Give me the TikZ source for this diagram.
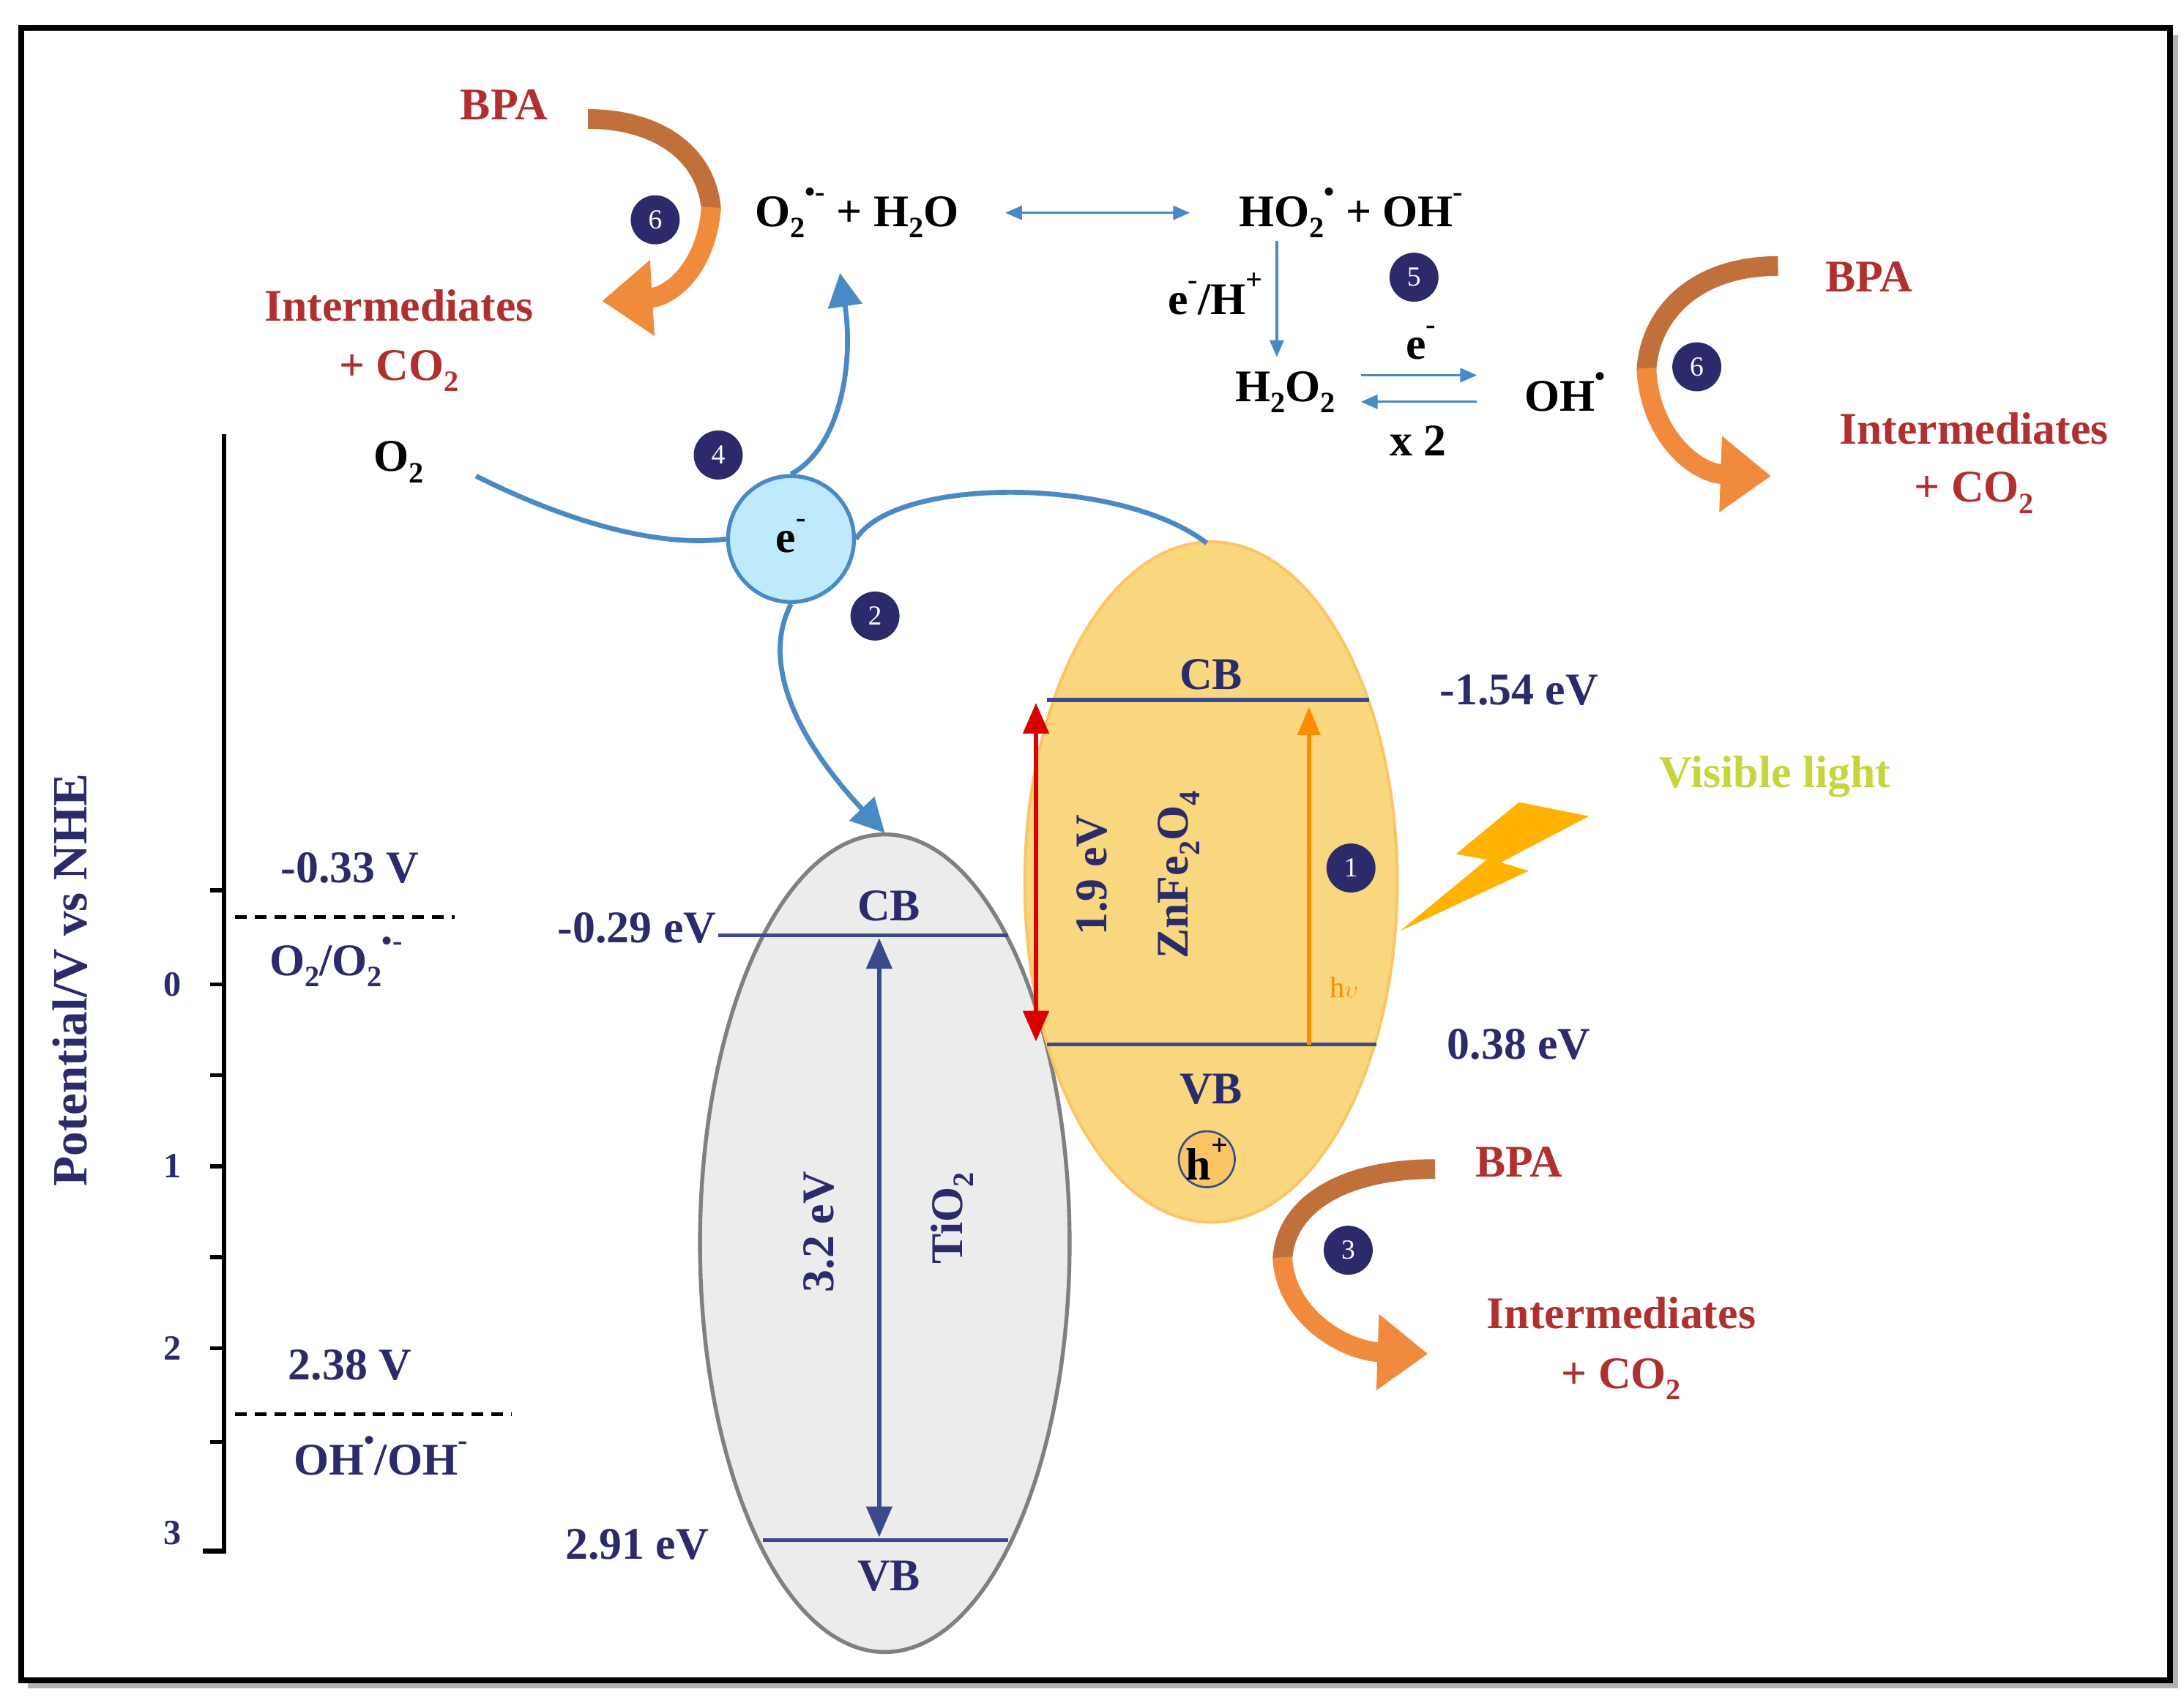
\documentclass[tikz,border=0pt]{standalone}
\usepackage{fontspec}
\setmainfont{Liberation Serif}
\usetikzlibrary{arrows.meta}
\definecolor{navy}{HTML}{2B2B6B}
\definecolor{band}{HTML}{3B4A8A}
\definecolor{lblue}{HTML}{4A8AC4}
\definecolor{redt}{HTML}{B03030}
\definecolor{brn}{HTML}{C0703A}
\definecolor{org}{HTML}{F08A3C}
\definecolor{yel}{HTML}{F9D77E}
\definecolor{vis}{HTML}{C8D43C}
\newcommand{\sbs}[1]{\raisebox{-0.25em}{\fontsize{30}{32}\selectfont #1}}
\newcommand{\sps}[1]{\raisebox{0.55em}{\fontsize{30}{32}\selectfont #1}}
\begin{document}
\begin{tikzpicture}[x=0.05cm,y=-0.05cm,
 t/.style={font=\fontsize{46}{50}\selectfont\bfseries,text=navy,inner sep=0},
 bk/.style={font=\fontsize{46}{50}\selectfont\bfseries,text=black,inner sep=0},
 rd/.style={font=\fontsize{46}{50}\selectfont\bfseries,text=redt,inner sep=0,align=center},
 num/.style={circle,fill=navy,text=white,minimum size=1.75cm,inner sep=0,font=\fontsize{28}{30}\selectfont},
 bandl/.style={band,line width=4pt},
 bl/.style={lblue,line width=5pt},
 blarr/.style={lblue,line width=5pt,-{Triangle[length=1.2cm,width=1.2cm]}},
 thin/.style={lblue,line width=2.5pt,-{Triangle[length=0.6cm,width=0.5cm]}},
]
\useasboundingbox (0,0) rectangle (1560,1216);
\fill[gray!60] (20,25) rectangle (1556,1206);
\draw[line width=6pt,fill=white] (15,20) rectangle (1550,1200);
% axis
\draw[line width=5pt] (160,310) -- (160,1108) -- (145,1108);
\foreach \y in {636,703,768,833,898,963,1030}{\draw[line width=4pt](150,\y)--(160,\y);}
\foreach \y/\l in {703/0,833/1,963/2,1095/3}{\node[t,font=\fontsize{36}{40}\selectfont\bfseries] (ax\l) at (123,\y) {\l};}
\node[t,rotate=90,font=\fontsize{50}{55}\selectfont\bfseries] (pot) at (50,700) {Potential/V vs NHE};
\draw[line width=4pt,dash pattern=on 12pt off 8pt] (168,655) -- (325,655);
\draw[line width=4pt,dash pattern=on 12pt off 8pt] (168,1010) -- (365,1010);
\node[t] (v1) at (250,620) {-0.33 V};
\node[t] (v1b) at (240,687) {O\sbs{2}/O\sbs{2}\sps{\textbullet-}};
\node[t] (v2) at (250,975) {2.38 V};
\node[t] (v2b) at (272,1040) {OH\sps{\textbullet}/OH\sps{-}};
% TiO2
\draw[gray,line width=4pt,fill=gray!15] (632,888) ellipse [x radius=132,y radius=292];
\draw[bandl] (513,668) -- (720,668);
\draw[bandl] (545,1100) -- (720,1100);
\node[t] (tcb) at (635,647) {CB};
\node[t] (tvb) at (635,1126) {VB};
\node[t] (tcbv) at (455,663) {-0.29 eV};
\node[t] (tvbv) at (455,1103) {2.91 eV};
\draw[band,line width=5pt,{Triangle[length=1.1cm,width=0.9cm]}-{Triangle[length=1.1cm,width=0.9cm]}] (628,670) -- (628,1098);
\node[t,rotate=90] (tg) at (585,880) {3.2 eV};
\node[t,rotate=90] (tn) at (680,870) {TiO\sbs{2}};
% ZnFe2O4
\draw[yel!80!orange,line width=3pt,fill=yel] (865,630) ellipse [x radius=133,y radius=243];
\draw[bandl] (748,500) -- (978,500);
\draw[bandl] (748,746) -- (983,746);
\node[t] (zcb) at (865,482) {CB};
\node[t] (zvb) at (865,778) {VB};
\node[t] (zcbv) at (1085,493) {-1.54 eV};
\node[t] (zvbv) at (1085,746) {0.38 eV};
\draw[red!85!black,line width=5pt,{Triangle[length=1.1cm,width=0.9cm]}-{Triangle[length=1.1cm,width=0.9cm]}] (740,502) -- (740,744);
\node[t,rotate=90] (zg) at (780,625) {1.9 eV};
\node[t,rotate=90] (zn) at (842,625) {ZnFe\sbs{2}O\sbs{4}};
\draw[orange!90!yellow,line width=4pt,-{Triangle[length=1cm,width=0.8cm]}] (935,746) -- (935,505);
\node[font=\fontsize{30}{32}\selectfont,text=orange!90!yellow,inner sep=0] (hv) at (960,705) {h$\upsilon$};
\node[circle,draw=band,line width=2pt,fill=yel!80!orange,minimum size=2cm,inner sep=0] (hp) at (862,828) {};
\node[t,text=black] (hpt) at (862,828) {h\sps{+}};
\fill[orange!60!yellow] (1135,583) -- (1085,573) -- (1040,610) -- (1062,614) -- (1000,665) -- (1092,622) -- (1072,616) -- cycle;
\node[font=\fontsize{46}{50}\selectfont\bfseries,text=vis,inner sep=0] (vl) at (1268,555) {Visible light};
% e- node
\node[circle,draw=lblue,line width=4pt,fill=cyan!25,minimum size=4.5cm,inner sep=0] (e) at (565,385) {};
\node[bk] (et) at (565,383) {e\sps{-}};
\node[bk] (o2) at (285,330) {O\sbs{2}};
\coordinate (o2s) at (340,340);
\coordinate (zt) at (862,388);
\coordinate (up) at (600,195);
\coordinate (dn) at (632,595);
\draw[bl] (o2s) .. controls (420,380) and (480,390) .. (e.west);
\draw[bl] (e.east) .. controls (640,340) and (800,340) .. (zt);
\draw[blarr] (e.north) .. controls (600,320) and (610,260) .. (up);
\draw[blarr] (e.south) .. controls (540,480) and (580,540) .. (dn);
% numbers
\node[num] (n1) at (965,620) {1};
\node[num] (n2) at (625,440) {2};
\node[num] (n3) at (963,893) {3};
\node[num] (n4) at (513,325) {4};
\node[num] (n5) at (1010,198) {5};
\node[num] (n6a) at (468,157) {6};
\node[num] (n6b) at (1212,262) {6};
% top reactions
\node[bk] (r1) at (612,152) {O\sbs{2}\sps{\textbullet-} + H\sbs{2}O};
\node[bk] (r2) at (965,152) {HO\sbs{2}\sps{\textbullet} + OH\sps{-}};
\draw[thin,{Triangle[length=0.6cm,width=0.5cm]}-{Triangle[length=0.6cm,width=0.5cm]}] (718,152) -- (850,152);
\node[bk] (eh) at (868,210) {e\sps{-}/H\sps{+}};
\draw[thin] (912,172) -- (912,255);
\node[bk] (h2o2) at (918,280) {H\sbs{2}O\sbs{2}};
\node[bk] (oh) at (1118,280) {OH\sps{\textbullet}};
\draw[thin] (972,268) -- (1055,268);
\draw[thin] (1055,287) -- (972,287);
\node[bk] (em) at (1015,245) {e\sps{-}};
\node[bk] (x2) at (1013,315) {x 2};
% curved arrows
\draw[brn,line width=20pt] (420,85) .. controls (470,85) and (505,110) .. (508,150);
\draw[org,line width=20pt,-{Triangle[length=1.8cm,width=2.6cm]}] (508,148) .. controls (505,190) and (480,212) .. (430,215);
\draw[brn,line width=20pt] (1270,190) .. controls (1210,190) and (1178,225) .. (1176,265);
\draw[org,line width=20pt,-{Triangle[length=1.8cm,width=2.6cm]}] (1176,263) .. controls (1178,310) and (1210,338) .. (1265,340);
\draw[brn,line width=20pt] (1025,835) .. controls (960,835) and (918,860) .. (916,900);
\draw[org,line width=20pt,-{Triangle[length=1.8cm,width=2.6cm]}] (916,898) .. controls (918,940) and (960,965) .. (1020,967);
\node[rd] (b1) at (360,75) {BPA};
\node[rd] (i1) at (285,218) {Intermediates};
\node[rd] (c1) at (285,265) {+ CO\sbs{2}};
\node[rd] (b2) at (1335,198) {BPA};
\node[rd] (i2) at (1410,306) {Intermediates};
\node[rd] (c2) at (1410,352) {+ CO\sbs{2}};
\node[rd] (b3) at (1085,830) {BPA};
\node[rd] (i3) at (1158,938) {Intermediates};
\node[rd] (c3) at (1158,985) {+ CO\sbs{2}};
\end{tikzpicture}
\end{document}
